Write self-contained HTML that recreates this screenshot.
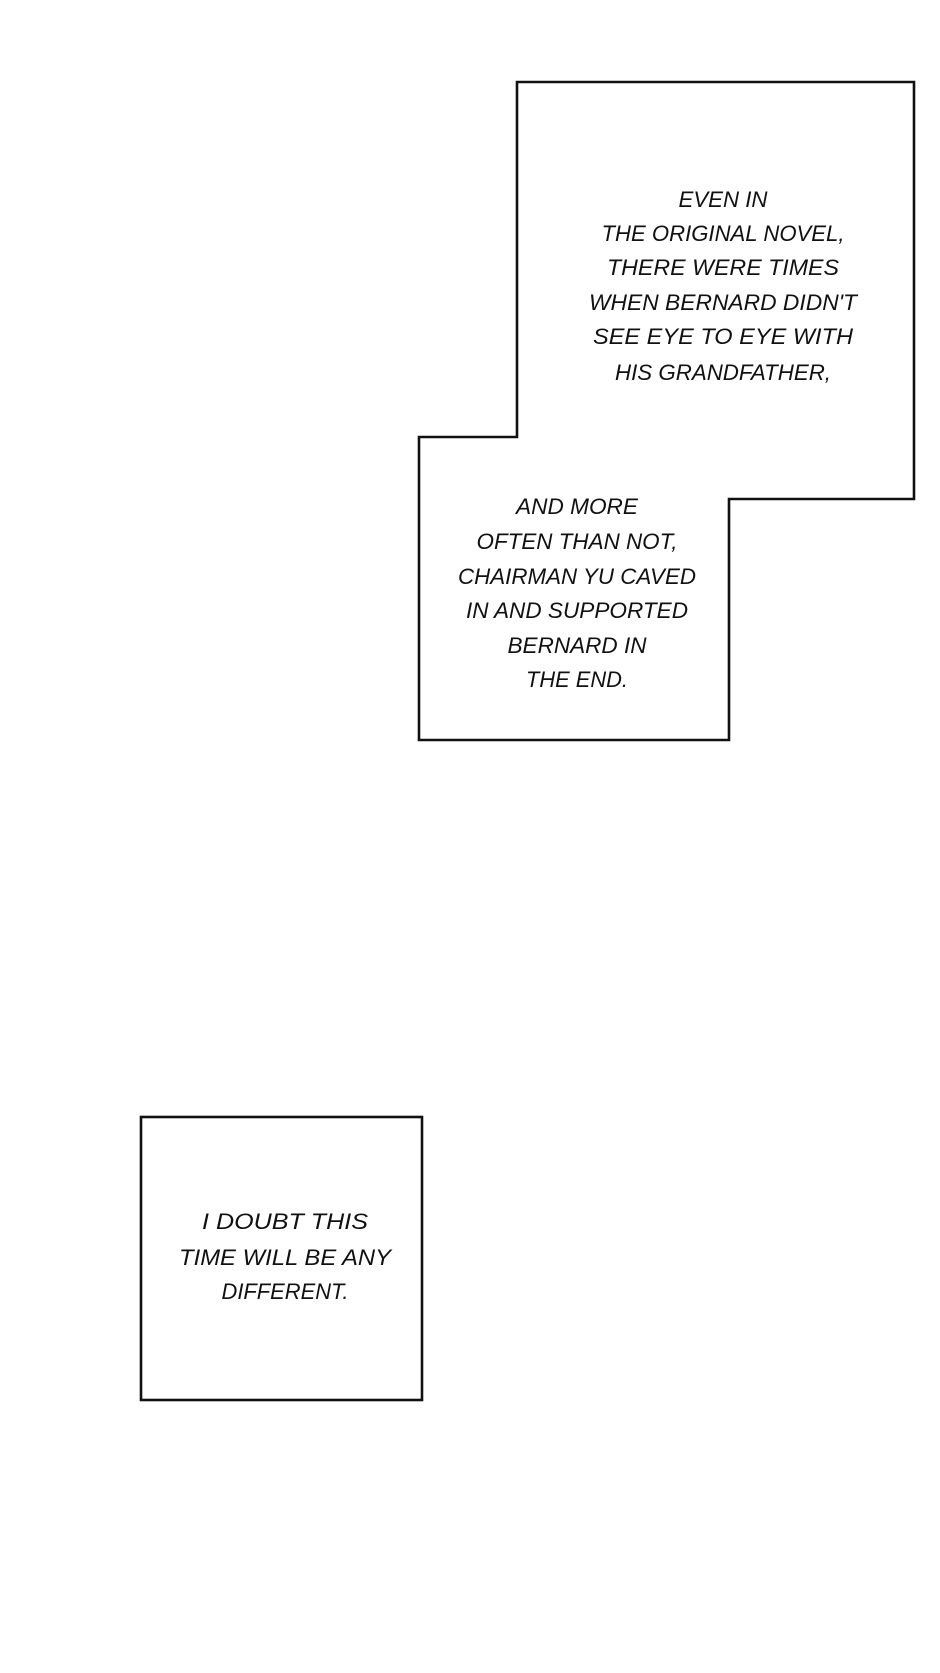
<!DOCTYPE html>
<html><head><meta charset="utf-8"><style>
html,body{margin:0;padding:0;background:#fff;}
svg{display:block;}
text{font-family:"Liberation Sans",sans-serif;font-style:italic;font-size:22px;fill:#111;}
</style></head><body>
<svg width="940" height="1673" viewBox="0 0 940 1673" xmlns="http://www.w3.org/2000/svg">
<rect width="940" height="1673" fill="#fff"/>
<path d="M517,82 H914 V499 H729 V740 H419 V437 H517 Z" fill="#fff" stroke="#111" stroke-width="2.6"/>
<rect x="141" y="1117" width="281" height="283" fill="#fff" stroke="#111" stroke-width="2.6"/>
<g text-anchor="middle">
<text x="723" y="207" textLength="89" lengthAdjust="spacingAndGlyphs">EVEN IN</text>
<text x="723" y="241" textLength="243" lengthAdjust="spacingAndGlyphs">THE ORIGINAL NOVEL,</text>
<text x="723" y="275" textLength="232" lengthAdjust="spacingAndGlyphs">THERE WERE TIMES</text>
<text x="723" y="310" textLength="268" lengthAdjust="spacingAndGlyphs">WHEN BERNARD DIDN'T</text>
<text x="723" y="344" textLength="260" lengthAdjust="spacingAndGlyphs">SEE EYE TO EYE WITH</text>
<text x="723" y="380" textLength="216" lengthAdjust="spacingAndGlyphs">HIS GRANDFATHER,</text>
<text x="577" y="514" textLength="122" lengthAdjust="spacingAndGlyphs">AND MORE</text>
<text x="577" y="549" textLength="201" lengthAdjust="spacingAndGlyphs">OFTEN THAN NOT,</text>
<text x="577" y="584" textLength="238" lengthAdjust="spacingAndGlyphs">CHAIRMAN YU CAVED</text>
<text x="577" y="618" textLength="222" lengthAdjust="spacingAndGlyphs">IN AND SUPPORTED</text>
<text x="577" y="653" textLength="139" lengthAdjust="spacingAndGlyphs">BERNARD IN</text>
<text x="577" y="687" textLength="102" lengthAdjust="spacingAndGlyphs">THE END.</text>
<text x="285" y="1229" textLength="166" lengthAdjust="spacingAndGlyphs">I DOUBT THIS</text>
<text x="285" y="1265" textLength="212" lengthAdjust="spacingAndGlyphs">TIME WILL BE ANY</text>
<text x="285" y="1299" textLength="127" lengthAdjust="spacingAndGlyphs">DIFFERENT.</text>
</g>
</svg>
</body></html>
